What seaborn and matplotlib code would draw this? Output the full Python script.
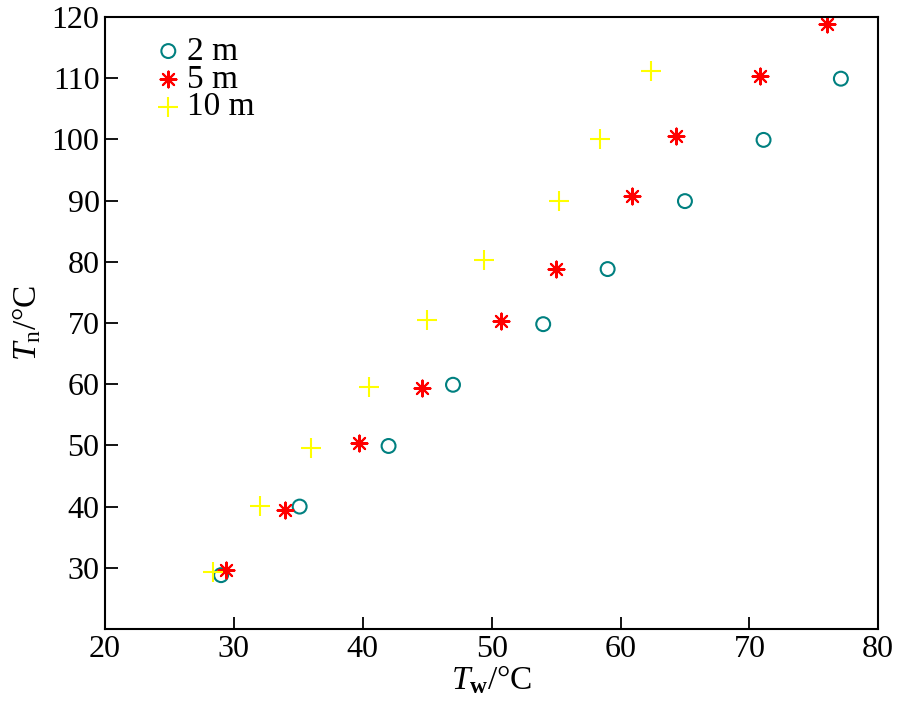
import pandas as pd
import matplotlib
matplotlib.use('Agg')
import matplotlib.pyplot as plt
import seaborn as sns

# data
tw_2m = [29.0, 35.1, 42.0, 47.0, 54.0, 59.0, 65.0, 71.1, 77.1]
tn_2m = [28.8, 40.0, 49.9, 59.9, 69.8, 78.8, 89.9, 99.9, 109.9]
tw_5m = [29.4, 34.0, 39.7, 44.6, 50.7, 55.0, 60.9, 64.3, 70.8, 76.0]
tn_5m = [29.6, 39.4, 50.4, 59.4, 70.3, 78.8, 90.8, 100.6, 110.4, 118.9]
tw_10m = [28.4, 32.0, 36.0, 40.5, 45.0, 49.4, 55.2, 58.4, 62.4]
tn_10m = [29.3, 40.1, 49.6, 59.5, 70.5, 80.3, 89.9, 100.1, 111.2]

df = pd.concat([
    pd.DataFrame({'Tw': tw_2m, 'Tn': tn_2m, 'depth': '2 m'}),
    pd.DataFrame({'Tw': tw_5m, 'Tn': tn_5m, 'depth': '5 m'}),
    pd.DataFrame({'Tw': tw_10m, 'Tn': tn_10m, 'depth': '10 m'}),
])

sns.set_style('ticks')
plt.rcParams['font.family'] = ['Liberation Serif', 'DejaVu Serif']
plt.rcParams['mathtext.fontset'] = 'custom'
plt.rcParams['mathtext.it'] = 'Liberation Serif:italic'
plt.rcParams['mathtext.rm'] = 'Liberation Serif'
plt.rcParams['mathtext.bf'] = 'Liberation Serif:bold'
plt.rcParams['text.color'] = 'black'
plt.rcParams['axes.labelcolor'] = 'black'
plt.rcParams['xtick.color'] = 'black'
plt.rcParams['ytick.color'] = 'black'
plt.rcParams['axes.edgecolor'] = 'black'

fig = plt.figure(figsize=(8.98, 7.11), dpi=100)
ax = fig.add_axes([0.117, 0.1153, 0.861, 0.861])

palette = {'2 m': '#008080', '5 m': '#ff0000', '10 m': '#ffff00'}
styles = {'2 m': dict(marker='o', s=100, facecolors='none', edgecolors='#008080', linewidths=1.5),
          '5 m': dict(marker=(8, 2, 0), s=130, linewidths=1.5),
          '10 m': dict(marker='+', s=200, linewidths=1.5)}

for name in ['2 m', '5 m', '10 m']:
    sub = df[df['depth'] == name]
    kw = styles[name]
    if name == '2 m':
        sns.scatterplot(data=sub, x='Tw', y='Tn', ax=ax, label=name, **kw)
    else:
        sns.scatterplot(data=sub, x='Tw', y='Tn', ax=ax, label=name, color=palette[name], **kw)

ax.set_xlim(20, 80)
ax.set_ylim(20, 120)
ax.set_xticks(range(20, 81, 10))
ax.set_yticks(range(30, 121, 10))
ax.tick_params(direction='in', length=9, width=1.3, labelsize=23, top=False, right=False, pad=4)
for sp in ax.spines.values():
    sp.set_linewidth(1.5)
    sp.set_visible(True)

ax.set_xlabel(r'$T_{\mathbf{w}}$/°C', fontsize=24, labelpad=0)
ax.set_ylabel(r'$T_{\mathrm{n}}$/°C', fontsize=24, labelpad=6)

leg = ax.legend(loc='upper left', frameon=False, fontsize=24, handletextpad=0.05,
                labelspacing=-0.08, borderaxespad=0.0, handlelength=1.0,
                bbox_to_anchor=(0.043, 0.99))

fig.savefig('out.png', dpi=100)
